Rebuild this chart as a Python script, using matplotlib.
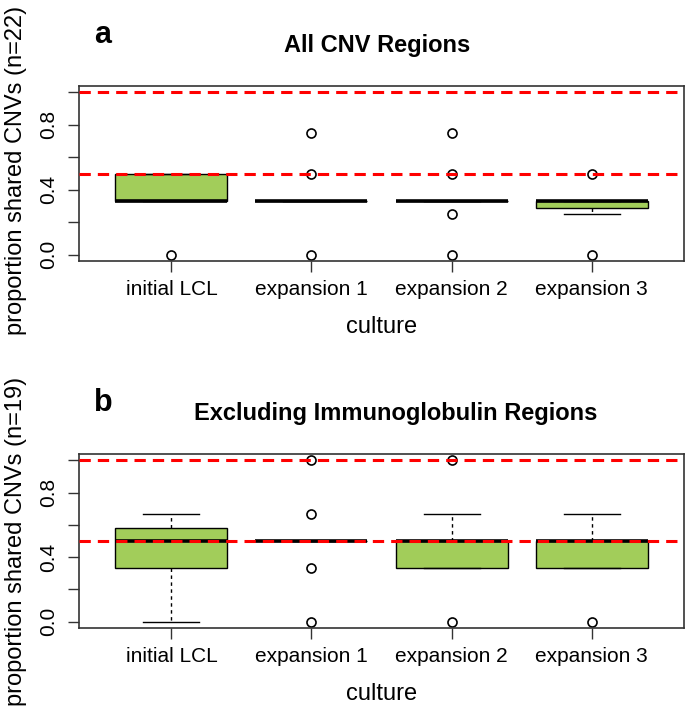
import numpy as np
import matplotlib
matplotlib.use('Agg')
import matplotlib.pyplot as plt

plt.rcParams['font.family'] = ['Liberation Sans', 'DejaVu Sans']

# categories on the x axis
cultures = ["initial LCL", "expansion 1", "expansion 2", "expansion 3"]

# panel a: all CNV regions (n=22)
a_q1 = [0.333, 0.333, 0.333, 0.29]
a_med = [0.333, 0.333, 0.333, 0.333]
a_q3 = [0.5, 0.333, 0.333, 0.333]
a_lo = [0.333, 0.333, 0.333, 0.25]
a_hi = [0.5, 0.333, 0.333, 0.333]
a_fliers = [[0.0], [0.75, 0.5, 0.0], [0.75, 0.5, 0.25, 0.0], [0.5, 0.0]]

# panel b: excluding immunoglobulin regions (n=19)
b_q1 = [0.333, 0.5, 0.333, 0.333]
b_med = [0.5, 0.5, 0.5, 0.5]
b_q3 = [0.583, 0.5, 0.5, 0.5]
b_lo = [0.0, 0.5, 0.333, 0.333]
b_hi = [0.667, 0.5, 0.667, 0.667]
b_fliers = [[], [1.0, 0.667, 0.333, 0.0], [1.0, 0.0], [0.0]]

ref_lines = [1.0, 0.5]
yticks = [0.0, 0.2, 0.4, 0.6, 0.8, 1.0]
yticklabels = ["0.0", "", "0.4", "", "0.8", ""]

W, H = 685, 710
fig = plt.figure(figsize=(W / 100, H / 100), dpi=100)

def px(x, y):
    # pixel position -> figure fraction
    return x / W, 1 - y / H

def panel(top, bottom, q1, med, q3, lo, hi, fliers, letter, title, title_x, ylab_y, n):
    ax = fig.add_axes([79 / W, 1 - bottom / H, 605 / W, (bottom - top) / H])
    stats = []
    for i in range(len(cultures)):
        stats.append(dict(q1=q1[i], med=med[i], q3=q3[i],
                          whislo=lo[i], whishi=hi[i], fliers=fliers[i]))
    pos = np.arange(1, len(cultures) + 1)
    ax.bxp(stats, positions=pos, widths=0.8, capwidths=0.4,
           patch_artist=True, manage_ticks=False,
           boxprops=dict(facecolor='#A2CD5A', edgecolor='black', linewidth=1.0),
           medianprops=dict(color='black', linewidth=2.6, solid_capstyle='butt'),
           whiskerprops=dict(color='black', linewidth=1.0, linestyle=(0, (2.5, 2.5))),
           capprops=dict(color='black', linewidth=1.0),
           flierprops=dict(marker='o', markerfacecolor='none', markeredgecolor='black',
                           markersize=6.5, markeredgewidth=1.2))
    for r in ref_lines:
        ax.axhline(r, color='red', linewidth=2.2, linestyle=(0, (3.7, 2.3)), zorder=5)

    ax.set_xlim(0.34, 4.66)
    ax.set_ylim(-0.04, 1.04)
    ax.set_xticks(pos)
    ax.set_xticklabels(cultures, fontsize=15)
    ax.set_yticks(yticks)
    ax.set_yticklabels(yticklabels, fontsize=15, rotation=90, va='center')
    ax.tick_params(axis='both', length=8, width=1.0, color='#333333')
    ax.tick_params(axis='x', pad=6)
    ax.tick_params(axis='y', pad=7)
    for s in ax.spines.values():
        s.set_color('#333333')
        s.set_linewidth(1.2)

    fig.text(*px(title_x, top - 34), title, fontsize=17, fontweight='bold',
             ha='center', va='baseline')
    fig.text(*px(94, top - 43), letter, fontsize=22, fontweight='bold',
             ha='left', va='baseline')
    fig.text(*px(382, bottom + 72), "culture", fontsize=17,
             ha='center', va='baseline')
    fig.text(*px(16, ylab_y), "proportion shared CNVs (n=%d)" % n,
             fontsize=17, rotation=90, ha='center', va='center')
    return ax

panel(86, 261, a_q1, a_med, a_q3, a_lo, a_hi, a_fliers, "a",
      "All CNV Regions", 377, 170, 22)
panel(454, 628, b_q1, b_med, b_q3, b_lo, b_hi, b_fliers, "b",
      "Excluding Immunoglobulin Regions", 396, 541, 19)

fig.savefig("out.png", dpi=100)
